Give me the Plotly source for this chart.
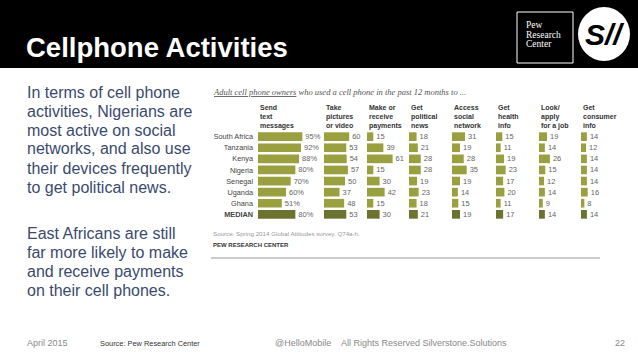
import plotly.graph_objects as go

W, H = 638, 359
def px(x): return x / W
def py(y): return 1 - y / H

countries = ["South Africa", "Tanzania", "Kenya", "Nigeria", "Senegal", "Uganda", "Ghana", "MEDIAN"]
headers = ["Send<br>text<br>messages", "Take<br>pictures<br>or video", "Make or<br>receive<br>payments",
           "Get<br>political<br>news", "Access<br>social<br>network", "Get<br>health<br>info",
           "Look/<br>apply<br>for a job", "Get<br>consumer<br>info"]
send_text      = [95, 92, 88, 80, 70, 60, 51, 80]
take_pictures  = [60, 53, 54, 57, 50, 37, 48, 53]
payments       = [15, 39, 61, 15, 30, 42, 15, 30]
political_news = [18, 21, 28, 28, 19, 23, 18, 21]
social_network = [31, 19, 28, 35, 19, 14, 15, 19]
health_info    = [15, 11, 19, 23, 17, 20, 11, 17]
job            = [19, 14, 26, 15, 12, 14, 9, 14]
consumer_info  = [14, 12, 14, 14, 14, 16, 8, 14]
series = [send_text, take_pictures, payments, political_news, social_network, health_info, job, consumer_info]

col_start = [258, 324, 367, 409, 452, 496, 539, 581]
col_scale = [0.467, 0.42, 0.42, 0.42, 0.42, 0.42, 0.42, 0.42]

bar_col = "#9aa040"
med_col = "#6c732f"
colors = [med_col if c == "MEDIAN" else bar_col for c in countries]

fig = go.Figure()
for i, vals in enumerate(series):
    ax = "x" if i == 0 else f"x{i+1}"
    txt = [f"{v}%" for v in vals] if i == 0 else [str(v) for v in vals]
    fig.add_trace(go.Bar(
        x=vals, y=countries, orientation="h", xaxis=ax, yaxis="y",
        marker=dict(color=colors, line=dict(width=0)),
        text=txt, textposition="outside", cliponaxis=False, constraintext="none",
        textfont=dict(family="Liberation Sans", size=7.5, color="#666666"),
        hoverinfo="skip", showlegend=False,
    ))

layout = dict(
    width=W, height=H, margin=dict(l=0, r=0, t=0, b=0),
    paper_bgcolor="white", plot_bgcolor="rgba(0,0,0,0)",
    bargap=0.22,
    yaxis=dict(domain=[py(219.9), py(131.1)], range=[7.5, -0.5], anchor="x",
               tickvals=countries,
               ticktext=[("<b>MEDIAN</b>" if c == "MEDIAN" else c) for c in countries],
               tickfont=dict(family="Liberation Sans", size=7.3, color="#444444"),
               showgrid=False, zeroline=False, showline=False, ticks="", ticklabelstandoff=4),
)
for i in range(8):
    key = "xaxis" if i == 0 else f"xaxis{i+1}"
    x0 = col_start[i]
    layout[key] = dict(domain=[px(x0), px(x0 + 100 * col_scale[i])], range=[0, 100],
                       anchor="y", showgrid=False, zeroline=False, showline=False,
                       showticklabels=False, ticks="", fixedrange=True)
fig.update_layout(**layout)

shapes = []
shapes.append(dict(type="rect", xref="paper", yref="paper", x0=0, x1=1, y0=py(68), y1=1,
                   fillcolor="black", line=dict(width=0), layer="below"))
shapes.append(dict(type="rect", xref="paper", yref="paper", x0=px(517), x1=px(573), y0=py(63), y1=py(12),
                   fillcolor="black", line=dict(color="white", width=1)))
shapes.append(dict(type="circle", xref="paper", yref="paper", x0=px(578), x1=px(630), y0=py(61), y1=py(7),
                   fillcolor="white", line=dict(width=0)))
shapes.append(dict(type="line", xref="paper", yref="paper", x0=px(211), x1=px(600), y0=py(258), y1=py(258),
                   line=dict(color="#999999", width=1)))
fig.update_layout(shapes=shapes)

ann = []
def A(x, y, text, size, color, family="Liberation Sans", xanchor="left", yanchor="middle", **kw):
    ann.append(dict(xref="paper", yref="paper", x=px(x), y=py(y), text=text, showarrow=False,
                    xanchor=xanchor, yanchor=yanchor, align="left",
                    font=dict(family=family, size=size, color=color), **kw))

A(24, 47, "<b>Cellphone Activities</b>", 27.5, "white")
for j, t in enumerate(["Pew", "Research", "Center"]):
    A(524, 25 + j * 9.5, t, 9.5, "white", family="Liberation Serif")
A(604, 35, "<b><i>S//</i></b>", 30, "black", xanchor="center")

left1 = ["In terms of cell phone", "activities, Nigerians are", "most active on social",
         "networks, and also use", "their devices frequently", "to get political news."]
left2 = ["East Africans are still", "far more likely to make", "and receive payments",
         "on their cell phones."]
for j, t in enumerate(left1):
    A(25, 92 + j * 19, t, 16, "#3a4a6e")
for j, t in enumerate(left2):
    A(25, 233 + j * 19.3, t, 16, "#3a4a6e")

A(211, 92, "<i><u>Adult cell phone owners</u> who used a cell phone in the past 12 months to ...</i>",
  8.5, "#555555", family="Liberation Serif")
for i, h in enumerate(headers):
    A(col_start[i], 102, "<b>" + h + "</b>", 7, "#333333", yanchor="top")

A(211, 233, "Source: Spring 2014 Global Attitudes survey. Q74a-h.", 6.2, "#999999")
A(211, 245, "<b>PEW RESEARCH CENTER</b>", 6, "#333333")

A(25, 343, "April 2015", 9, "#888888")
A(98, 343, "Source: Pew Research Center", 7.4, "#333333")
A(273, 343, "@HelloMobile", 9, "#888888")
A(339, 343, "All Rights Reserved Silverstone.Solutions", 9, "#888888")
A(627, 343, "22", 9, "#888888", xanchor="right")

fig.update_layout(annotations=ann)
fig.write_html("out.html", config={"displayModeBar": False, "staticPlot": True},
               post_script="document.body.style.margin='0';document.body.style.padding='0';"
                           "document.body.style.overflow='hidden';")
